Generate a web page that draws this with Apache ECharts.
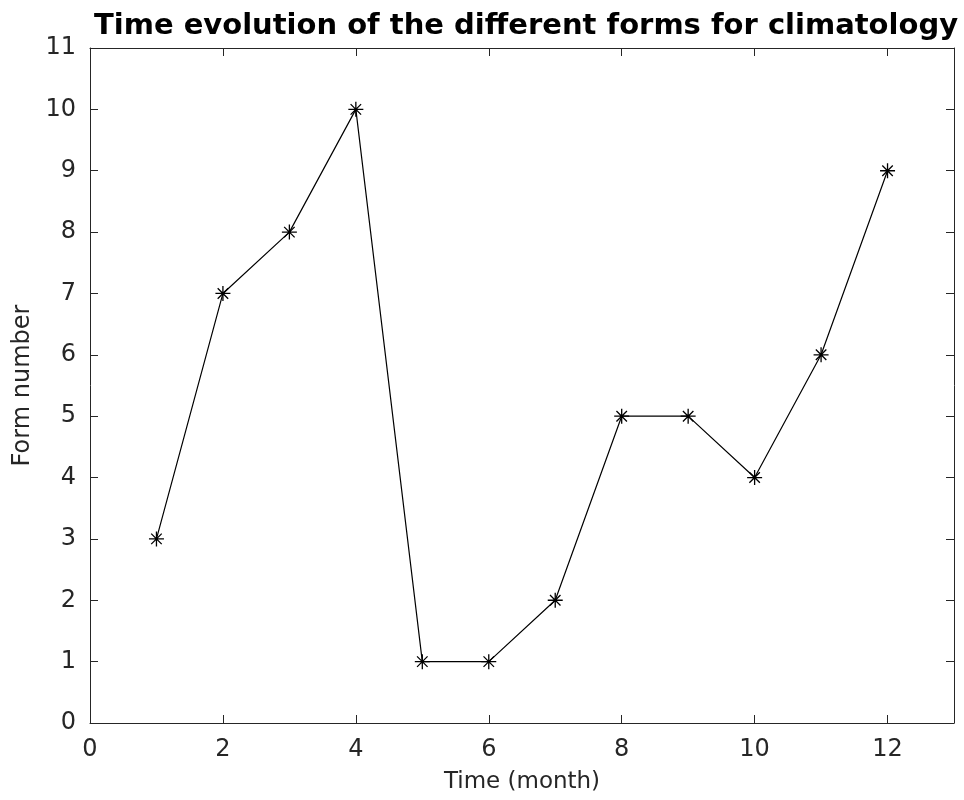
<!DOCTYPE html>
<html><head><meta charset="utf-8">
<script src="https://cdn.jsdelivr.net/npm/echarts@6/dist/echarts.min.js"></script>
<style>html,body{margin:0;padding:0;background:#fff}#c{width:964px;height:800px}</style>
</head><body><div id="c"></div>
<script>
const months = [1,2,3,4,5,6,7,8,9,10,11,12];
const formNumbers = [3,7,8,10,1,1,2,5,5,4,6,9];
const titleText = 'Time evolution of the different forms for climatology';
const xName = 'Time (month)';
const yName = 'Form number';

const chart = echarts.init(document.getElementById('c'), null, {renderer:'canvas'});
const axisCol = '#262626';
const FONT = 'DejaVu Sans';
const star = 'path://M5,0L5,10M0,5L10,5M1.5,1.5L8.5,8.5M1.5,8.5L8.5,1.5';
function common(){
  return {
    axisLine:{show:true,onZero:false,lineStyle:{color:axisCol,width:1}},
    axisTick:{show:true,inside:true,length:8,lineStyle:{color:axisCol,width:1}},
    splitLine:{show:false}
  };
}
chart.setOption({
  animation:false,
  title:{text:titleText,left:521,top:7,textAlign:'center',
    textStyle:{fontFamily:FONT,fontWeight:'bold',fontSize:29,color:'#000'}},
  grid:{left:90,top:48,width:864,height:675,containLabel:false},
  xAxis:[
    Object.assign({type:'value',min:0,max:13,interval:2,position:'bottom',
      name:xName,nameLocation:'middle',nameGap:48,
      nameTextStyle:{fontFamily:FONT,fontSize:23,color:axisCol},
      axisLabel:{fontFamily:FONT,fontSize:24,color:axisCol,margin:15,showMaxLabel:false}},common()),
    Object.assign({type:'value',min:0,max:13,interval:2,position:'top',axisLabel:{show:false}},common())
  ],
  yAxis:[
    Object.assign({type:'value',min:0,max:11,interval:1,position:'left',
      name:yName,nameLocation:'middle',nameGap:55,
      nameTextStyle:{fontFamily:FONT,fontSize:24,color:axisCol},
      axisLabel:{fontFamily:FONT,fontSize:24,color:axisCol,margin:14}},common()),
    Object.assign({type:'value',min:0,max:11,interval:1,position:'right',axisLabel:{show:false}},common())
  ],
  series:[{
    type:'line',
    data:months.map((m,i)=>[m,formNumbers[i]]),
    symbol:star,symbolSize:15,
    lineStyle:{color:'#000',width:1.2},
    itemStyle:{color:'rgba(0,0,0,0)',borderColor:'#000',borderWidth:1.3},
    emphasis:{disabled:true}
  }]
});
</script></body></html>
